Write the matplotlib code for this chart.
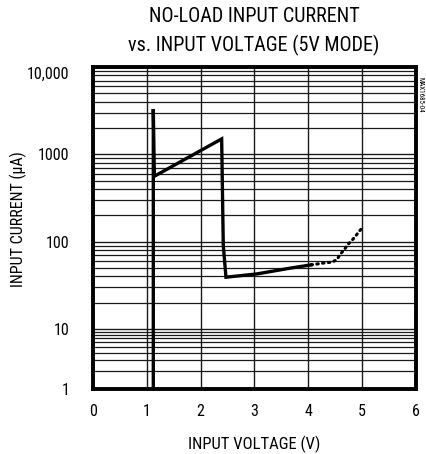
import numpy as np
import matplotlib
matplotlib.use("Agg")
import matplotlib.pyplot as plt
from matplotlib.ticker import FixedLocator, NullFormatter
from matplotlib import font_manager

names = {f.name for f in font_manager.fontManager.ttflist}
cands = ['Liberation Sans Narrow', 'Roboto Condensed', 'Open Sans Condensed',
         'Arial Narrow', 'Nimbus Sans Narrow', 'Roboto']
fam = [c for c in cands if c in names] + ['DejaVu Sans']
plt.rcParams['font.family'] = fam
narrow = fam[0] != 'Roboto' and fam[0] != 'DejaVu Sans'
fs_tick = 11.5 if narrow else 10.5
fs_xlab = 12 if narrow else 11
fs_ylab = 11.5 if narrow else 10.5
fs_title = 14.5 if narrow else 12.5

# Data
solid_v = [1.12, 1.12, 1.14, 2.39, 2.42, 2.47, 3.04, 3.66, 4.05]
solid_i = [1.0, 3300, 560, 1500, 90, 39, 42.5, 49.5, 54]
dot_v = [4.05, 4.19, 4.31, 4.44, 4.53, 4.59, 4.67, 4.73, 4.81, 4.88, 4.95, 5.02]
dot_i = [54, 55.6, 57, 58, 62, 71, 81, 92, 103, 116, 132, 148]

x_ticks = [0, 1, 2, 3, 4, 5, 6]
y_ticks = [1, 10, 100, 1000, 10000]
y_tick_labels = ["1", "10", "100", "1000", "10,000"]

# bottom decade of the original is drawn compressed
K = 0.69
def fwd(y):
    y = np.asarray(y, dtype=float)
    l = np.log10(np.clip(y, 1e-3, None))
    return np.where(l >= 1, l, 1 + (l - 1) * K)
def inv(v):
    v = np.asarray(v, dtype=float)
    return np.where(v >= 1, 10 ** v, 10 ** (1 + (v - 1) / K))

W, H = 426, 454
fig = plt.figure(figsize=(W / 100, H / 100), dpi=100)
ax = fig.add_axes([93 / W, 1 - 389 / H, (416 - 93) / W, (389 - 67) / H])
ax.set_yscale('function', functions=(fwd, inv))
ax.set_xlim(0, 6)
ax.set_ylim(1, 10000)

ax.set_xticks(x_ticks)
ax.set_yticks(y_ticks)
ax.set_yticklabels(y_tick_labels)
minors = [m * 10 ** d for d in range(0, 4) for m in range(2, 10)]
ax.yaxis.set_minor_locator(FixedLocator(minors))
ax.yaxis.set_minor_formatter(NullFormatter())
ax.tick_params(axis='both', which='both', length=0, labelsize=fs_tick, colors='black')
ax.tick_params(axis='x', pad=11)
ax.tick_params(axis='y', pad=17)
ax.get_yticklabels()[-1].set_va('top')

ax.grid(True, which='major', axis='both', color='#1a1a1a', linewidth=1.0)
ax.grid(True, which='minor', axis='y', color='#1a1a1a', linewidth=0.9)
ax.set_axisbelow(True)
for s in ax.spines.values():
    s.set_linewidth(2.8)
    s.set_color('black')

ax.plot(solid_v, solid_i, color='black', linewidth=2.4, solid_joinstyle='miter', zorder=3)
ax.plot(dot_v, dot_i, color='black', linewidth=2.2, linestyle=(0, (0.5, 1.4)),
        dash_capstyle='round', zorder=3)

ax.set_xlabel("INPUT VOLTAGE (V)", fontsize=fs_xlab, labelpad=12)
fig.text(18 / W, 1 - 219 / H, "INPUT CURRENT (µA)", rotation=90, fontsize=fs_ylab,
         ha='center', va='center')
fig.text(254 / W, 1 - 31.5 / H, "NO-LOAD INPUT CURRENT\nvs. INPUT VOLTAGE (5V MODE)",
         ha='center', va='center', fontsize=fs_title, linespacing=1.5)
fig.text(420 / W, 1 - 95 / H, "MAX1685-04", rotation=-90, fontsize=5,
         ha='center', va='center')

fig.savefig("out.png", dpi=100)
